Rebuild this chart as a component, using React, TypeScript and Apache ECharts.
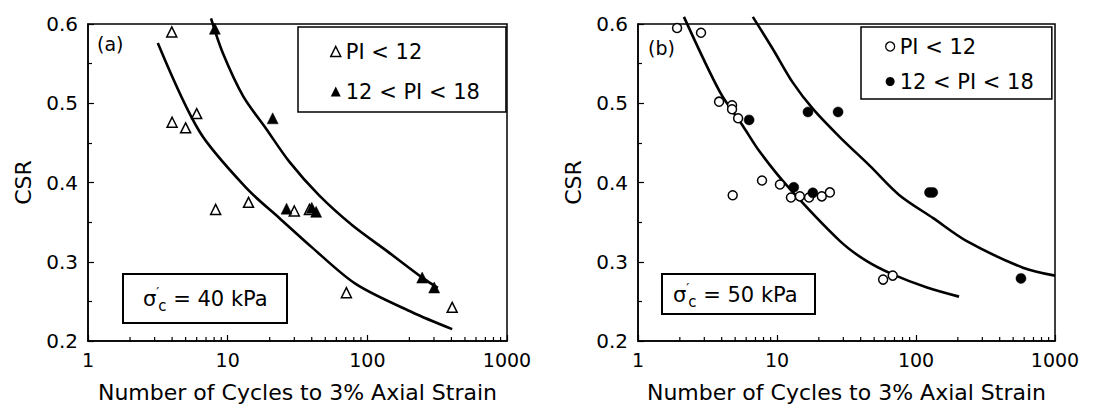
import React, { useEffect, useRef } from 'react';
import * as echarts from 'echarts';

const FONT = 'DejaVu Sans';

const xTickLabels = [1, 10, 100, 1000];
const xMinorTicks = [2, 3, 4, 5, 6, 7, 8, 9, 20, 30, 40, 50, 60, 70, 80, 90, 200, 300, 400, 500, 600, 700, 800, 900];
const yTickLabels = [0.2, 0.3, 0.4, 0.5, 0.6];

const legendLow = 'PI < 12';
const legendHigh = '12 < PI < 18';

// Panel (a): sigma'c = 40 kPa
const aLowPI = [
  [3.98, 0.59], [4.0, 0.476], [5.0, 0.469], [6.0, 0.487], [8.2, 0.366],
  [14.1, 0.375], [30, 0.364], [38.5, 0.366], [70.8, 0.261], [405, 0.2425],
];
const aHighPI = [
  [8.1, 0.594], [21, 0.481], [26.4, 0.367], [40, 0.368], [43, 0.363], [247, 0.28], [301, 0.2675],
];
const aCurveLow = [
  [3.16, 0.576], [6.3, 0.464], [13.7, 0.3925], [23.5, 0.355],
  [40.5, 0.3175], [83, 0.2717], [211, 0.236], [405, 0.215],
];
const aCurveHigh = [
  [7.6, 0.607], [9.2, 0.564], [12.9, 0.509], [18.9, 0.4675], [27.7, 0.426], [45, 0.384],
  [78, 0.346], [137, 0.314], [247, 0.28], [320, 0.267],
];

// Panel (b): sigma'c = 50 kPa
const bLowPI = [
  [1.91, 0.595], [2.84, 0.589], [3.83, 0.502], [4.75, 0.4975], [4.75, 0.4925], [5.25, 0.481],
  [4.8, 0.384], [7.8, 0.4025], [10.5, 0.3975], [12.6, 0.381], [14.6, 0.3825], [17, 0.381],
  [21, 0.3825], [24, 0.3875], [58, 0.2775], [68, 0.2825],
];
const bHighPI = [
  [6.3, 0.479], [16.7, 0.489], [27.5, 0.489], [13.2, 0.394], [18.1, 0.387], [125, 0.3875],
  [132, 0.3875], [569, 0.279],
];
const bCurveLow = [
  [2.14, 0.609], [3.89, 0.514], [5.7, 0.471], [7.5, 0.439], [11.8, 0.396],
  [28.4, 0.326], [44, 0.301], [68, 0.284], [120, 0.2675], [204, 0.256],
];
const bCurveHigh = [
  [6.7, 0.609], [9.4, 0.5675], [13, 0.526], [18.2, 0.4925], [28.4, 0.457], [46.6, 0.421],
  [76, 0.384], [133, 0.355], [232, 0.326], [588, 0.2925], [1000, 0.2825],
];

function xAxisDef(gridIndex: number) {
  return {
    type: 'log',
    logBase: 10,
    gridIndex,
    min: xTickLabels[0],
    max: xTickLabels[xTickLabels.length - 1],
    axisLine: { show: true, lineStyle: { color: '#000', width: 1.5 } },
    axisTick: { show: true, inside: true, length: 6, lineStyle: { color: '#000', width: 1.2 } },
    splitLine: { show: false },
    axisLabel: {
      color: '#000', fontSize: 19, fontFamily: FONT, margin: 9,
      formatter: (v: number) => String(Math.round(v)),
    },
    name: 'Number of Cycles to 3% Axial Strain',
    nameLocation: 'middle',
    nameGap: 40,
    nameTextStyle: { color: '#000', fontSize: 22, fontFamily: FONT },
  };
}

function yAxisDef(gridIndex: number) {
  return {
    type: 'value',
    gridIndex,
    min: yTickLabels[0],
    max: yTickLabels[yTickLabels.length - 1],
    interval: 0.1,
    axisLine: { show: true, lineStyle: { color: '#000', width: 1.5 } },
    axisTick: { show: true, inside: true, length: 6, lineStyle: { color: '#000', width: 1.2 } },
    minorTick: { show: true, splitNumber: 2, length: 4, lineStyle: { color: '#000', width: 1.2 } },
    splitLine: { show: false },
    axisLabel: {
      color: '#000', fontSize: 20, fontFamily: FONT, margin: 10,
      formatter: (v: number) => v.toFixed(1),
    },
    name: 'CSR',
    nameLocation: 'middle',
    nameGap: 54,
    nameTextStyle: { color: '#000', fontSize: 22, fontFamily: FONT },
  };
}

function minorTickSeries(idx: number) {
  return {
    type: 'custom',
    xAxisIndex: idx,
    yAxisIndex: idx,
    silent: true,
    data: xMinorTicks.map((v) => [v, yTickLabels[0]]),
    renderItem: (params: any, api: any) => {
      const p = api.coord([api.value(0), api.value(1)]);
      return {
        type: 'line',
        shape: { x1: p[0], y1: p[1], x2: p[0], y2: p[1] - 4 },
        style: { stroke: '#000', lineWidth: 1.2 },
      };
    },
    z: 5,
  };
}

function curve(idx: number, data: number[][]) {
  return {
    type: 'line',
    xAxisIndex: idx,
    yAxisIndex: idx,
    data,
    smooth: 0.3,
    symbol: 'none',
    showSymbol: false,
    clip: false,
    silent: true,
    lineStyle: { color: '#000', width: 2.6 },
    z: 2,
  };
}

function scatter(idx: number, name: string, data: number[][], symbol: string, size: number, filled: boolean) {
  return {
    type: 'scatter',
    name,
    xAxisIndex: idx,
    yAxisIndex: idx,
    data,
    symbol,
    symbolSize: size,
    clip: false,
    itemStyle: filled
      ? { color: '#000', borderColor: '#000', borderWidth: 0.5, opacity: 1 }
      : { color: '#fff', borderColor: '#000', borderWidth: 1.5, opacity: 1 },
    z: 4,
  };
}

export default function App() {
  const ref = useRef<HTMLDivElement>(null);

  useEffect(() => {
    if (!ref.current) return;
    const chart = echarts.init(ref.current, undefined, { renderer: 'svg' });
    const option: any = {
      animation: false,
      backgroundColor: '#fff',
      textStyle: { fontFamily: FONT },
      grid: [
        { left: 88, top: 24, width: 419, height: 319, show: true, borderColor: '#000', borderWidth: 1.5, backgroundColor: 'transparent' },
        { left: 638, top: 24, width: 417, height: 319, show: true, borderColor: '#000', borderWidth: 1.5, backgroundColor: 'transparent' },
      ],
      xAxis: [xAxisDef(0), xAxisDef(1)],
      yAxis: [yAxisDef(0), yAxisDef(1)],
      legend: [
        {
          orient: 'vertical', left: 298, top: 27,
          padding: [14, 26, 10, 32], itemGap: 19, itemWidth: 10, itemHeight: 10,
          symbolKeepAspect: true,
          borderColor: '#000', borderWidth: 1.5, selectedMode: false,
          textStyle: { fontSize: 21, fontFamily: FONT, color: '#000' },
          data: [
            { name: legendLow, icon: 'triangle', itemStyle: { color: '#fff', borderColor: '#000', borderWidth: 1.5, opacity: 1 } },
            { name: legendHigh, icon: 'triangle', itemStyle: { color: '#000', borderColor: '#000', borderWidth: 0, opacity: 1 } },
          ],
        },
        {
          orient: 'vertical', left: 861, top: 27,
          padding: [9, 18, 7, 24], itemGap: 14, itemWidth: 9, itemHeight: 9,
          symbolKeepAspect: true,
          borderColor: '#000', borderWidth: 1.5, selectedMode: false,
          textStyle: { fontSize: 21, fontFamily: FONT, color: '#000' },
          data: [
            { name: legendLow, icon: 'circle', itemStyle: { color: '#fff', borderColor: '#000', borderWidth: 1.3, opacity: 1 } },
            { name: legendHigh, icon: 'circle', itemStyle: { color: '#000', borderColor: '#000', borderWidth: 0, opacity: 1 } },
          ],
        },
      ],
      graphic: [
        { type: 'text', left: 97, top: 34, style: { text: '(a)', font: `19px "${FONT}"`, fill: '#000' } },
        { type: 'text', left: 648, top: 38, style: { text: '(b)', font: `19px "${FONT}"`, fill: '#000' } },
        {
          type: 'rect', shape: { x: 123, y: 274, width: 164, height: 49 },
          style: { fill: '#fff', stroke: '#000', lineWidth: 2 }, z: 10,
        },
        {
          type: 'text', x: 143, y: 299, z: 11,
          style: {
            text: '{m|σ}{p|′}{c|c}{m| = 40 kPa}',
            verticalAlign: 'middle',
            rich: {
              m: { fontSize: 21, fontFamily: FONT, fill: '#000', lineHeight: 28 },
              p: { fontSize: 13, fontFamily: FONT, fill: '#000', verticalAlign: 'top', width: 2 },
              c: { fontSize: 15, fontFamily: FONT, fill: '#000', verticalAlign: 'bottom' },
            },
          },
        },
        {
          type: 'rect', shape: { x: 662, y: 274, width: 153, height: 40 },
          style: { fill: '#fff', stroke: '#000', lineWidth: 2 }, z: 10,
        },
        {
          type: 'text', x: 673, y: 295, z: 11,
          style: {
            text: '{m|σ}{p|′}{c|c}{m| = 50 kPa}',
            verticalAlign: 'middle',
            rich: {
              m: { fontSize: 21, fontFamily: FONT, fill: '#000', lineHeight: 28 },
              p: { fontSize: 13, fontFamily: FONT, fill: '#000', verticalAlign: 'top', width: 2 },
              c: { fontSize: 15, fontFamily: FONT, fill: '#000', verticalAlign: 'bottom' },
            },
          },
        },
      ],
      series: [
        minorTickSeries(0),
        minorTickSeries(1),
        curve(0, aCurveLow),
        curve(0, aCurveHigh),
        curve(1, bCurveLow),
        curve(1, bCurveHigh),
        scatter(0, legendLow, aLowPI, 'triangle', 10, false),
        scatter(0, legendHigh, aHighPI, 'triangle', 11, true),
        scatter(1, legendLow, bLowPI, 'circle', 9, false),
        scatter(1, legendHigh, bHighPI, 'circle', 10, true),
      ],
    };
    chart.setOption(option);
    return () => chart.dispose();
  }, []);

  return (
    <div
      ref={ref}
      style={{ position: 'absolute', left: 0, top: 0, width: 1094, height: 408, background: '#fff' }}
    />
  );
}
